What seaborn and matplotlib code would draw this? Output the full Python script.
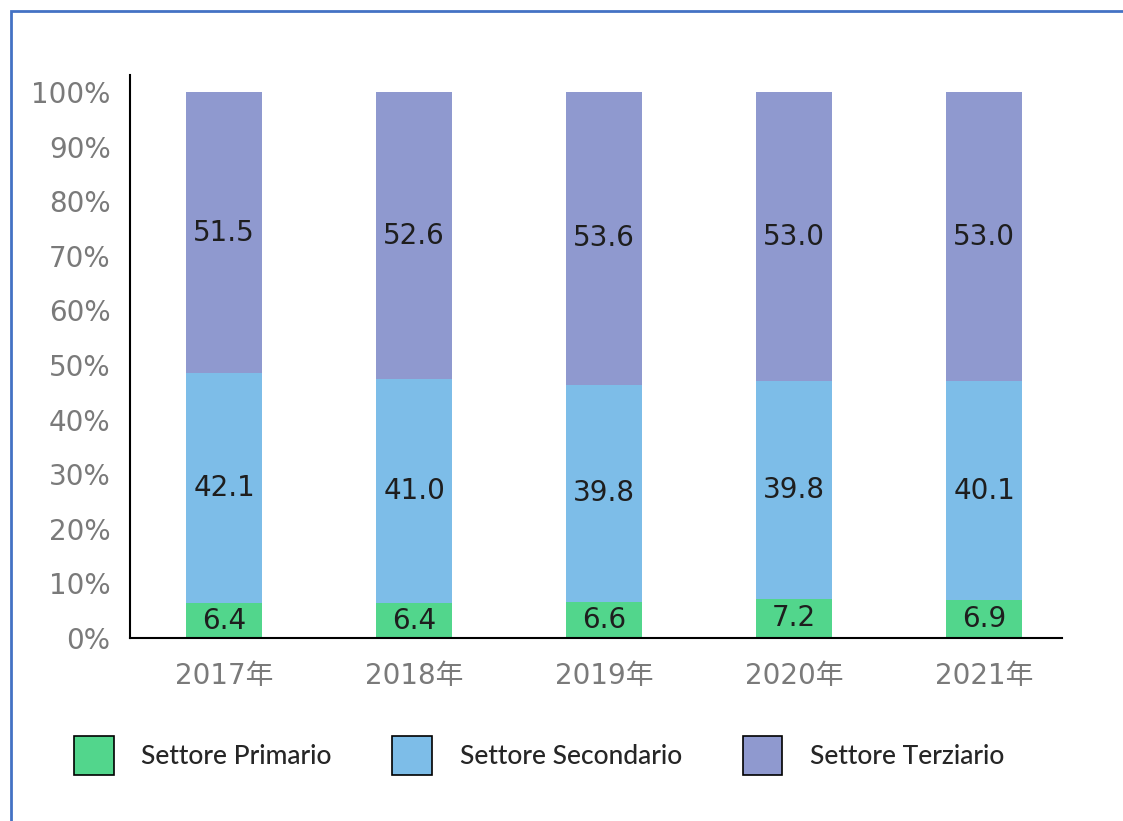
import matplotlib
matplotlib.use("Agg")
import matplotlib.pyplot as plt
from matplotlib.patches import Patch, Rectangle
import seaborn as sns
import numpy as np

sns.set_style("white")
plt.rcParams['font.family'] = ['DejaVu Sans', 'Noto Sans CJK SC']

years = ['2017年', '2018年', '2019年', '2020年', '2021年']
primario = [6.4, 6.4, 6.6, 7.2, 6.9]
secondario = [42.1, 41.0, 39.8, 39.8, 40.1]
terziario = [51.5, 52.6, 53.6, 53.0, 53.0]
series_names = ['Settore Primario', 'Settore Secondario', 'Settore Terziario']
colors = ['#52d68c', '#7dbde8', '#8f99cf']

fig = plt.figure(figsize=(11.23, 8.21), dpi=100)
ax = fig.add_axes([130 / 1123, 1 - 638 / 821, (1062 - 130) / 1123, (638 - 75) / 821])

# stacked layers, each bar sits on the sum of the ones below
bottom = np.zeros(len(years))
for vals, col in zip([primario, secondario, terziario], colors):
    sns.barplot(x=years, y=vals, bottom=bottom, color=col, width=0.4,
                saturation=1, linewidth=0, ax=ax)
    bottom = bottom + np.array(vals)

for cont in ax.containers:
    ax.bar_label(cont, fmt='%.1f', label_type='center', fontsize=20,
                 color='#1e1e1e')

ax.set_ylim(0, 103.1)
ax.set_xlim(-0.495, 4.41)
ax.set_yticks(range(0, 101, 10))
ax.set_yticklabels([f'{t}%' for t in range(0, 101, 10)])
ax.tick_params(axis='both', length=0, labelsize=20, labelcolor='#7a7a7a')
ax.tick_params(axis='y', pad=14)
ax.tick_params(axis='x', pad=17)
sns.despine(ax=ax)
for s in ['left', 'bottom']:
    ax.spines[s].set_color('black')
    ax.spines[s].set_linewidth(1.5)

handles = [Patch(facecolor=c, edgecolor='black', linewidth=1.2) for c in colors]
fig.legend(handles, series_names, loc='upper left',
           bbox_to_anchor=(74 / 1123, 1 - 736 / 821), ncol=3, frameon=False,
           borderpad=0, borderaxespad=0, handlelength=1.5, handleheight=1.9,
           handletextpad=1.05, columnspacing=2.3,
           prop={'family': 'Lato', 'size': 19, 'weight': 'medium'})

# blue frame around the picture (only top and left edges are visible)
fig.patches.append(Rectangle((11 / 1123, -0.1), 1.2, 1.1 - 11 / 821,
                             transform=fig.transFigure, fill=False,
                             edgecolor='#4472c4', linewidth=2))

fig.savefig('out.png', dpi=100)
